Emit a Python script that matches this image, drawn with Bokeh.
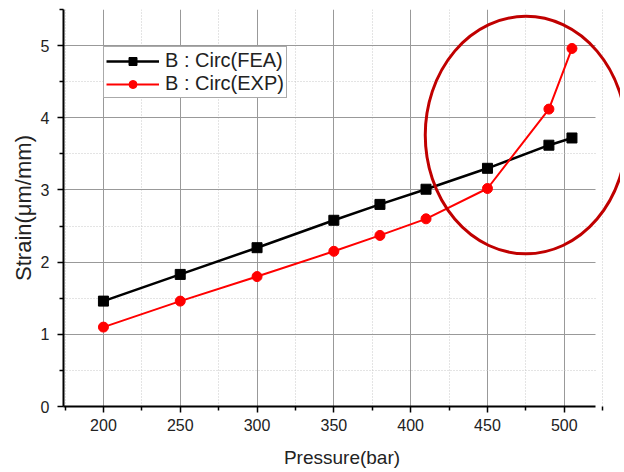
from bokeh.plotting import figure
from bokeh.embed import file_html
from bokeh.resources import INLINE
from bokeh.models import Range1d, FixedTicker, Legend, LegendItem, LinearAxis

pressure = [200, 250, 300, 350, 380, 410, 450, 490, 505]
strain_fea = [1.46, 1.83, 2.20, 2.58, 2.80, 3.01, 3.30, 3.62, 3.72]
strain_exp = [1.10, 1.46, 1.80, 2.15, 2.37, 2.60, 3.02, 4.12, 4.96]
x_ticks = [200, 250, 300, 350, 400, 450, 500]
y_ticks = [0, 1, 2, 3, 4, 5]
# highlight ellipse (center x, center y, width, height) in data units
ell_x, ell_y, ell_w, ell_h = 475, 3.76, 131, 3.29

FONT = "Liberation Sans"

p = figure(width=620, height=470, output_backend="svg", toolbar_location=None,
           x_range=Range1d(174, 536.6), y_range=Range1d(0, 5.5),
           min_border_left=63, min_border_right=0, min_border_top=9, min_border_bottom=63)
p.outline_line_color = None
p.background_fill_color = "white"

xticker = FixedTicker(ticks=x_ticks, minor_ticks=[175, 225, 275, 325, 375, 425, 475, 525])
yticker = FixedTicker(ticks=y_ticks, minor_ticks=[0.5, 1.5, 2.5, 3.5, 4.5, 5.5])
xax = p.xaxis[0]
yax = p.yaxis[0]

# axes
xax.bounds = (174, 520)
xax.ticker = xticker
yax.ticker = yticker
for ax in (xax, yax):
    ax.axis_line_color = "black"
    ax.axis_line_width = 2
    ax.major_tick_line_color = "black"
    ax.major_tick_line_width = 1.5
    ax.minor_tick_line_color = "black"
    ax.minor_tick_line_width = 1.5
    ax.major_tick_out = 6
    ax.major_tick_in = 0
    ax.minor_tick_out = 4
    ax.minor_tick_in = 0
    ax.major_label_text_font = FONT
    ax.major_label_text_font_size = "16px"
    ax.major_label_text_color = "#222222"
    ax.axis_label_text_font = FONT
    ax.axis_label_text_font_size = "19px"
    ax.axis_label_text_font_style = "normal"
    ax.axis_label_text_color = "#222222"
xax.axis_label = "Pressure(bar)"
xax.major_label_standoff = 6
yax.major_label_standoff = 8
xax.axis_label_standoff = 13

# grids
for g in (p.xgrid[0], p.ygrid[0]):
    g.grid_line_color = "#999999"
    g.grid_line_width = 1
    g.minor_grid_line_color = "#c8c8c8"
    g.minor_grid_line_dash = "1 2"
    g.minor_grid_line_width = 1
p.xgrid[0].ticker = xticker
p.ygrid[0].ticker = yticker
p.xgrid[0].bounds = (174, 520)
p.ygrid[0].bounds = (0, 5.5)
p.ygrid[0].cross_bounds = (174, 520)

# y-axis title carried by a bare outer axis whose bounds centre it like the original
title_axis = LinearAxis(bounds=(0, 5), ticker=FixedTicker(ticks=[]),
                        axis_label="Strain(μm/mm)",
                        axis_line_color=None, major_tick_line_color=None,
                        minor_tick_line_color=None, major_tick_out=0, minor_tick_out=0,
                        major_tick_in=0, minor_tick_in=0, major_label_standoff=0,
                        axis_label_standoff=2, axis_label_text_font=FONT,
                        axis_label_text_font_size="22px", axis_label_text_font_style="normal",
                        axis_label_text_color="#222222")
p.add_layout(title_axis, "left")

# series
l1 = p.line(pressure, strain_fea, line_color="black", line_width=2.5)
s1 = p.scatter(pressure, strain_fea, marker="square", size=10, color="black")
l2 = p.line(pressure, strain_exp, line_color="#ff0000", line_width=2)
s2 = p.scatter(pressure, strain_exp, marker="circle", size=10, color="#ff0000")

# highlight ellipse
p.ellipse(x=[ell_x], y=[ell_y], width=[ell_w], height=[ell_h],
          fill_color=None, line_color="#c00000", line_width=3)

legend = Legend(items=[LegendItem(label="B : Circ(FEA)", renderers=[l1, s1]),
                       LegendItem(label="B : Circ(EXP)", renderers=[l2, s2])],
                location=(40, 308), orientation="vertical")
legend.label_text_font = FONT
legend.label_text_font_size = "20px"
legend.label_text_color = "#222222"
legend.glyph_width = 53
legend.glyph_height = 20
legend.label_height = 20
legend.label_standoff = 6
legend.spacing = 0
legend.padding = 2
legend.margin = 0
legend.border_line_color = "#555555"
legend.border_line_width = 1
legend.background_fill_color = "white"
legend.background_fill_alpha = 1
p.add_layout(legend, "center")

open("out.html", "w").write(file_html(p, INLINE))
